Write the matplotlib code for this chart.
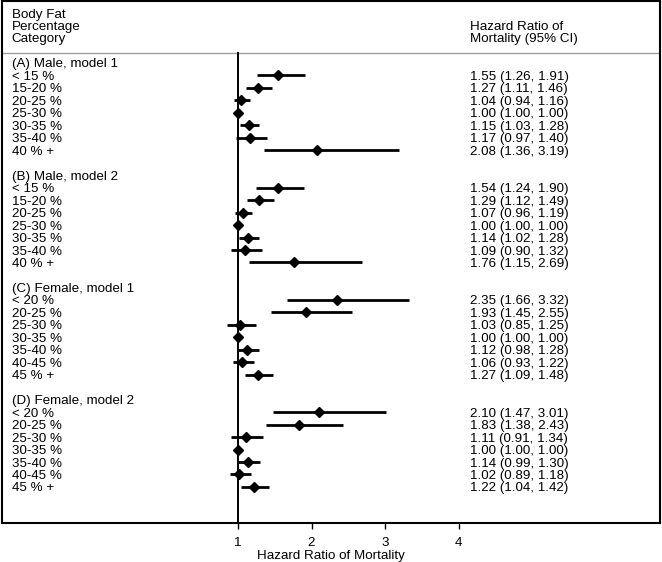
import matplotlib.pyplot as plt

plt.rcParams['font.family'] = ['Liberation Sans', 'DejaVu Sans']

groups = ["(A) Male, model 1", "(B) Male, model 2",
          "(C) Female, model 1", "(D) Female, model 2"]
male_cats = ["< 15 %", "15-20 %", "20-25 %", "25-30 %", "30-35 %", "35-40 %", "40 % +"]
female_cats = ["< 20 %", "20-25 %", "25-30 %", "30-35 %", "35-40 %", "40-45 %", "45 % +"]
categories = [male_cats, male_cats, female_cats, female_cats]

hr = [
    [1.55, 1.27, 1.04, 1.00, 1.15, 1.17, 2.08],
    [1.54, 1.29, 1.07, 1.00, 1.14, 1.09, 1.76],
    [2.35, 1.93, 1.03, 1.00, 1.12, 1.06, 1.27],
    [2.10, 1.83, 1.11, 1.00, 1.14, 1.02, 1.22],
]
lower = [
    [1.26, 1.11, 0.94, 1.00, 1.03, 0.97, 1.36],
    [1.24, 1.12, 0.96, 1.00, 1.02, 0.90, 1.15],
    [1.66, 1.45, 0.85, 1.00, 0.98, 0.93, 1.09],
    [1.47, 1.38, 0.91, 1.00, 0.99, 0.89, 1.04],
]
upper = [
    [1.91, 1.46, 1.16, 1.00, 1.28, 1.40, 3.19],
    [1.90, 1.49, 1.19, 1.00, 1.28, 1.32, 2.69],
    [3.32, 2.55, 1.25, 1.00, 1.28, 1.22, 1.48],
    [3.01, 2.43, 1.34, 1.00, 1.30, 1.18, 1.42],
]
xticks = [1, 2, 3, 4]

fig = plt.figure(figsize=(6.62, 5.62), dpi=100)
ax = fig.add_axes([2 / 662, 1 - 523 / 562, 658 / 662, 522 / 562])

x_left, x_right = -2.21, 6.74
y_top, y_bottom = -4.97, 36.89
ax.set_xlim(x_left, x_right)
ax.set_ylim(y_bottom, y_top)

label_x = -2.08   # left column of labels
text_x = 4.15     # hazard ratio column
fs = 9.6
base = 0.36       # baseline offset from row centre

row = 0
for g in range(4):
    ax.text(label_x, row + base, groups[g], fontsize=fs, va='baseline')
    row += 1
    for i in range(7):
        ax.plot([lower[g][i], upper[g][i]], [row, row], color='black', lw=2,
                solid_capstyle='butt')
        ax.plot(hr[g][i], row, marker='D', color='black', ms=5)
        ax.text(label_x, row + base, categories[g][i], fontsize=fs, va='baseline')
        ax.text(text_x, row + base,
                "%.2f (%.2f, %.2f)" % (hr[g][i], lower[g][i], upper[g][i]),
                fontsize=fs, va='baseline')
        row += 1
    row += 1

# header
for yy, s in zip([-3.58, -2.65, -1.71], ["Body Fat", "Percentage", "Category"]):
    ax.text(label_x, yy, s, fontsize=fs, va='baseline')
for yy, s in zip([-2.65, -1.71], ["Hazard Ratio of", "Mortality (95% CI)"]):
    ax.text(text_x, yy, s, fontsize=fs, va='baseline')
ax.axhline(-0.78, color='#a0a0a0', lw=1)

# reference line at 1
ax.plot([1, 1], [-0.78, y_bottom], color='black', lw=1.4)

ax.set_yticks([])
ax.set_xticks(xticks)
ax.set_xticklabels([str(t) for t in xticks])
ax.tick_params(axis='x', length=4, width=1, pad=6, labelsize=fs)
ax.set_xlabel("Hazard Ratio of Mortality", fontsize=fs, labelpad=1)
for sp in ax.spines.values():
    sp.set_linewidth(1.5)

plt.savefig("out.png", dpi=100)
